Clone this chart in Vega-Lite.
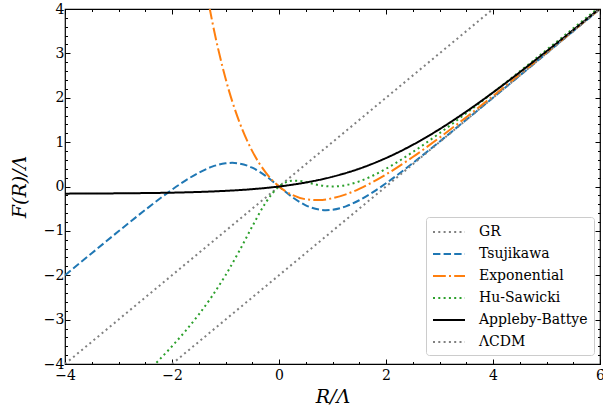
{
  "$schema": "https://vega.github.io/schema/vega-lite/v6.json",
  "width": 535,
  "height": 355,
  "autosize": "none",
  "padding": {"left": 65, "top": 9, "right": 3, "bottom": 46},
  "config": {
    "view": {"stroke": "black", "strokeWidth": 1.2},
    "font": "DejaVu Serif",
    "axis": {"grid": false, "domain": false, "tickColor": "black", "tickWidth": 1, "labelColor": "black", "titleColor": "black", "labelFont": "DejaVu Serif", "titleFont": "DejaVu Serif", "labelFlush": false, "labelOverlap": false, "format": "d"},
    "legend": {"labelFont": "DejaVu Serif"}
  },
  "data": {
    "values": [
      {"model": "GR", "R": -4, "F": -4},
      {"model": "GR", "R": 4, "F": 4},
      {"model": "Tsujikawa", "R": -4, "F": -2.001},
      {"model": "Tsujikawa", "R": -3.5, "F": -1.504},
      {"model": "Tsujikawa", "R": -3, "F": -1.01},
      {"model": "Tsujikawa", "R": -2.5, "F": -0.527},
      {"model": "Tsujikawa", "R": -2, "F": -0.072},
      {"model": "Tsujikawa", "R": -1.75, "F": 0.133},
      {"model": "Tsujikawa", "R": -1.5, "F": 0.31},
      {"model": "Tsujikawa", "R": -1.25, "F": 0.447},
      {"model": "Tsujikawa", "R": -1, "F": 0.523},
      {"model": "Tsujikawa", "R": -0.875, "F": 0.533},
      {"model": "Tsujikawa", "R": -0.75, "F": 0.52},
      {"model": "Tsujikawa", "R": -0.5, "F": 0.424},
      {"model": "Tsujikawa", "R": -0.25, "F": 0.24},
      {"model": "Tsujikawa", "R": 0, "F": 0},
      {"model": "Tsujikawa", "R": 0.25, "F": -0.24},
      {"model": "Tsujikawa", "R": 0.5, "F": -0.424},
      {"model": "Tsujikawa", "R": 0.75, "F": -0.52},
      {"model": "Tsujikawa", "R": 0.875, "F": -0.533},
      {"model": "Tsujikawa", "R": 1, "F": -0.523},
      {"model": "Tsujikawa", "R": 1.25, "F": -0.447},
      {"model": "Tsujikawa", "R": 1.5, "F": -0.31},
      {"model": "Tsujikawa", "R": 1.75, "F": -0.133},
      {"model": "Tsujikawa", "R": 2, "F": 0.072},
      {"model": "Tsujikawa", "R": 2.5, "F": 0.527},
      {"model": "Tsujikawa", "R": 3, "F": 1.01},
      {"model": "Tsujikawa", "R": 3.5, "F": 1.504},
      {"model": "Tsujikawa", "R": 4, "F": 2.001},
      {"model": "Tsujikawa", "R": 4.5, "F": 2.5},
      {"model": "Tsujikawa", "R": 5, "F": 3},
      {"model": "Tsujikawa", "R": 5.5, "F": 3.5},
      {"model": "Tsujikawa", "R": 6, "F": 4},
      {"model": "Exponential", "R": -1.5, "F": 5.463},
      {"model": "Exponential", "R": -1.375, "F": 4.535},
      {"model": "Exponential", "R": -1.25, "F": 3.731},
      {"model": "Exponential", "R": -1, "F": 2.437},
      {"model": "Exponential", "R": -0.75, "F": 1.484},
      {"model": "Exponential", "R": -0.5, "F": 0.797},
      {"model": "Exponential", "R": -0.25, "F": 0.318},
      {"model": "Exponential", "R": 0, "F": 0},
      {"model": "Exponential", "R": 0.25, "F": -0.192},
      {"model": "Exponential", "R": 0.5, "F": -0.287},
      {"model": "Exponential", "R": 0.75, "F": -0.305},
      {"model": "Exponential", "R": 1, "F": -0.264},
      {"model": "Exponential", "R": 1.25, "F": -0.177},
      {"model": "Exponential", "R": 1.5, "F": -0.054},
      {"model": "Exponential", "R": 1.75, "F": 0.098},
      {"model": "Exponential", "R": 2, "F": 0.271},
      {"model": "Exponential", "R": 2.5, "F": 0.664},
      {"model": "Exponential", "R": 3, "F": 1.1},
      {"model": "Exponential", "R": 3.5, "F": 1.56},
      {"model": "Exponential", "R": 4, "F": 2.037},
      {"model": "Exponential", "R": 4.5, "F": 2.522},
      {"model": "Exponential", "R": 5, "F": 3.013},
      {"model": "Exponential", "R": 5.5, "F": 3.508},
      {"model": "Exponential", "R": 6, "F": 4.005},
      {"model": "Hu-Sawicki", "R": -2.5, "F": -4.224},
      {"model": "Hu-Sawicki", "R": -2.25, "F": -3.92},
      {"model": "Hu-Sawicki", "R": -2, "F": -3.6},
      {"model": "Hu-Sawicki", "R": -1.75, "F": -3.258},
      {"model": "Hu-Sawicki", "R": -1.5, "F": -2.885},
      {"model": "Hu-Sawicki", "R": -1.25, "F": -2.47},
      {"model": "Hu-Sawicki", "R": -1, "F": -2},
      {"model": "Hu-Sawicki", "R": -0.75, "F": -1.47},
      {"model": "Hu-Sawicki", "R": -0.5, "F": -0.9},
      {"model": "Hu-Sawicki", "R": -0.25, "F": -0.368},
      {"model": "Hu-Sawicki", "R": -0.125, "F": -0.156},
      {"model": "Hu-Sawicki", "R": 0, "F": 0},
      {"model": "Hu-Sawicki", "R": 0.125, "F": 0.094},
      {"model": "Hu-Sawicki", "R": 0.25, "F": 0.132},
      {"model": "Hu-Sawicki", "R": 0.375, "F": 0.128},
      {"model": "Hu-Sawicki", "R": 0.5, "F": 0.1},
      {"model": "Hu-Sawicki", "R": 0.625, "F": 0.063},
      {"model": "Hu-Sawicki", "R": 0.75, "F": 0.03},
      {"model": "Hu-Sawicki", "R": 0.875, "F": 0.008},
      {"model": "Hu-Sawicki", "R": 1, "F": 0},
      {"model": "Hu-Sawicki", "R": 1.25, "F": 0.03},
      {"model": "Hu-Sawicki", "R": 1.5, "F": 0.115},
      {"model": "Hu-Sawicki", "R": 1.75, "F": 0.242},
      {"model": "Hu-Sawicki", "R": 2, "F": 0.4},
      {"model": "Hu-Sawicki", "R": 2.5, "F": 0.776},
      {"model": "Hu-Sawicki", "R": 3, "F": 1.2},
      {"model": "Hu-Sawicki", "R": 3.5, "F": 1.651},
      {"model": "Hu-Sawicki", "R": 4, "F": 2.118},
      {"model": "Hu-Sawicki", "R": 4.5, "F": 2.594},
      {"model": "Hu-Sawicki", "R": 5, "F": 3.077},
      {"model": "Hu-Sawicki", "R": 5.5, "F": 3.564},
      {"model": "Hu-Sawicki", "R": 6, "F": 4.054},
      {"model": "Appleby-Battye", "R": -4, "F": -0.161},
      {"model": "Appleby-Battye", "R": -3.5, "F": -0.158},
      {"model": "Appleby-Battye", "R": -3, "F": -0.154},
      {"model": "Appleby-Battye", "R": -2.5, "F": -0.148},
      {"model": "Appleby-Battye", "R": -2, "F": -0.139},
      {"model": "Appleby-Battye", "R": -1.5, "F": -0.123},
      {"model": "Appleby-Battye", "R": -1, "F": -0.098},
      {"model": "Appleby-Battye", "R": -0.5, "F": -0.06},
      {"model": "Appleby-Battye", "R": 0, "F": 0},
      {"model": "Appleby-Battye", "R": 0.5, "F": 0.09},
      {"model": "Appleby-Battye", "R": 1, "F": 0.22},
      {"model": "Appleby-Battye", "R": 1.5, "F": 0.401},
      {"model": "Appleby-Battye", "R": 2, "F": 0.641},
      {"model": "Appleby-Battye", "R": 2.5, "F": 0.939},
      {"model": "Appleby-Battye", "R": 3, "F": 1.291},
      {"model": "Appleby-Battye", "R": 3.5, "F": 1.688},
      {"model": "Appleby-Battye", "R": 4, "F": 2.119},
      {"model": "Appleby-Battye", "R": 4.5, "F": 2.574},
      {"model": "Appleby-Battye", "R": 5, "F": 3.045},
      {"model": "Appleby-Battye", "R": 5.5, "F": 3.526},
      {"model": "Appleby-Battye", "R": 6, "F": 4.015},
      {"model": "ΛCDM", "R": -2, "F": -4},
      {"model": "ΛCDM", "R": 6, "F": 4}
    ]
  },
  "layer": [
    {
      "mark": {"type": "line", "clip": true, "strokeWidth": 2, "interpolate": "monotone"},
      "encoding": {
        "x": {
          "field": "R", "type": "quantitative",
          "scale": {"domain": [-4, 6], "nice": false, "zero": false},
          "axis": {
            "orient": "bottom",
            "title": "R/Λ", "titleFontSize": 19, "titleFontStyle": "italic", "titleFontWeight": "normal", "titlePadding": 3,
            "values": [-4, -3.5, -3, -2.5, -2, -1.5, -1, -0.5, 0, 0.5, 1, 1.5, 2, 2.5, 3, 3.5, 4, 4.5, 5, 5.5, 6],
            "labelExpr": "abs(datum.value/2 - round(datum.value/2)) < 0.01 ? datum.label : ''",
            "labelFontSize": 14, "labelPadding": 9,
            "tickSize": {"condition": {"test": "abs(datum.value/2 - round(datum.value/2)) < 0.01", "value": -5}, "value": -2.5}
          }
        },
        "y": {
          "field": "F", "type": "quantitative",
          "scale": {"domain": [-4, 4], "nice": false},
          "axis": {
            "orient": "left",
            "title": "F(R)/Λ", "titleFontSize": 19, "titleFontStyle": "italic", "titleFontWeight": "normal", "titlePadding": 14,
            "values": [-4, -3.8, -3.6, -3.4, -3.2, -3, -2.8, -2.6, -2.4, -2.2, -2, -1.8, -1.6, -1.4, -1.2, -1, -0.8, -0.6, -0.4, -0.2, 0, 0.2, 0.4, 0.6, 0.8, 1, 1.2, 1.4, 1.6, 1.8, 2, 2.2, 2.4, 2.6, 2.8, 3, 3.2, 3.4, 3.6, 3.8, 4],
            "labelExpr": "abs(datum.value - round(datum.value)) < 0.01 ? datum.label : ''",
            "labelFontSize": 14, "labelPadding": 6,
            "tickSize": {"condition": {"test": "abs(datum.value - round(datum.value)) < 0.01", "value": -5}, "value": -2.5}
          }
        },
        "color": {
          "field": "model", "type": "nominal",
          "scale": {
            "domain": ["GR", "Tsujikawa", "Exponential", "Hu-Sawicki", "Appleby-Battye", "ΛCDM"],
            "range": ["#808080", "#1f77b4", "#ff7f0e", "#2ca02c", "#000000", "#808080"]
          },
          "legend": {
            "title": null, "orient": "none", "legendX": 361, "legendY": 208,
            "symbolType": "M-1,0H3", "symbolSize": 256, "symbolStrokeWidth": 2,
            "labelFontSize": 14, "labelFont": "DejaVu Serif", "labelColor": "black", "labelOffset": 29,
            "rowPadding": 6, "padding": 6, "strokeColor": "#cccccc", "fillColor": "white", "cornerRadius": 3
          }
        },
        "strokeDash": {
          "field": "model", "type": "nominal",
          "scale": {
            "domain": ["GR", "Tsujikawa", "Exponential", "Hu-Sawicki", "Appleby-Battye", "ΛCDM"],
            "range": [[2, 3.3], [7.4, 3.2], [12.8, 3.2, 2, 3.2], [2, 3.3], [1, 0], [2, 3.3]]
          },
          "legend": {
            "title": null, "orient": "none", "legendX": 361, "legendY": 208,
            "symbolType": "M-1,0H3", "symbolSize": 256, "symbolStrokeWidth": 2,
            "labelFontSize": 14, "labelFont": "DejaVu Serif", "labelColor": "black", "labelOffset": 29,
            "rowPadding": 6, "padding": 6, "strokeColor": "#cccccc", "fillColor": "white", "cornerRadius": 3
          }
        }
      }
    },
    {
      "mark": {"type": "point", "opacity": 0},
      "encoding": {
        "x": {
          "field": "R", "type": "quantitative",
          "axis": {
            "orient": "top", "title": null, "labels": false,
            "values": [-4, -3.5, -3, -2.5, -2, -1.5, -1, -0.5, 0, 0.5, 1, 1.5, 2, 2.5, 3, 3.5, 4, 4.5, 5, 5.5, 6],
            "tickSize": {"condition": {"test": "abs(datum.value/2 - round(datum.value/2)) < 0.01", "value": -5}, "value": -2.5}
          }
        },
        "y": {
          "field": "F", "type": "quantitative",
          "axis": {
            "orient": "right", "title": null, "labels": false,
            "values": [-4, -3.8, -3.6, -3.4, -3.2, -3, -2.8, -2.6, -2.4, -2.2, -2, -1.8, -1.6, -1.4, -1.2, -1, -0.8, -0.6, -0.4, -0.2, 0, 0.2, 0.4, 0.6, 0.8, 1, 1.2, 1.4, 1.6, 1.8, 2, 2.2, 2.4, 2.6, 2.8, 3, 3.2, 3.4, 3.6, 3.8, 4],
            "tickSize": {"condition": {"test": "abs(datum.value - round(datum.value)) < 0.01", "value": -5}, "value": -2.5}
          }
        }
      }
    }
  ],
  "resolve": {"axis": {"x": "independent", "y": "independent"}}
}
